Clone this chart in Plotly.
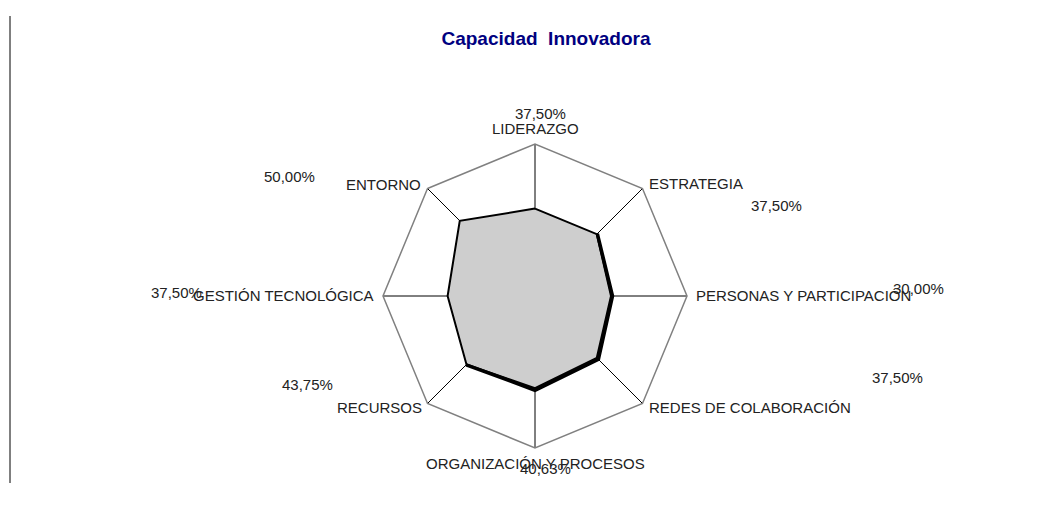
import plotly.graph_objects as go

# ---- data ----
categories = ["LIDERAZGO", "ESTRATEGIA", "PERSONAS Y PARTICIPACIÓN", "REDES DE COLABORACIÓN",
              "ORGANIZACIÓN Y PROCESOS", "RECURSOS", "GESTIÓN TECNOLÓGICA", "ENTORNO"]
values = [0.375, 0.375, 0.30, 0.375, 0.4063, 0.4375, 0.375, 0.50]
line_values = [None, 0.38, 0.31, 0.39, 0.42, 0.44, None, None]
value_labels = [f"{v*100:.2f}%".replace(".", ",") for v in values]

# pixel positions (x, y from top) of the data-label texts as placed in the original
label_pos = [(540, 113), (776, 205), (918, 288), (897, 377),
             (545, 468), (308, 384), (176, 292), (289, 176)]
# category label anchor points (x, y from top, horizontal anchor)
cat_pos = [(535, 128, "center"), (647, 183, "left"), (694, 295, "left"), (647, 407, "left"),
           (535, 463, "center"), (424, 407, "right"), (376, 295, "right"), (423, 184, "right")]

W, H = 1045, 514
CX, CY, R = 535, 296, 152
FONT = "Liberation Sans, Arial, sans-serif"

fig = go.Figure()

fig.add_trace(go.Scatterpolar(
    r=values + values[:1], theta=categories + categories[:1],
    mode="lines", fill="toself", fillcolor="rgb(206,206,206)",
    line=dict(color="black", width=2), showlegend=False, hoverinfo="skip"))

fig.add_trace(go.Scatterpolar(
    r=line_values, theta=categories,
    mode="lines", line=dict(color="black", width=3.5),
    connectgaps=False, showlegend=False, hoverinfo="skip"))

for txt, (px, py, anc) in zip(categories, cat_pos):
    fig.add_annotation(x=px / W, y=1 - py / H, xref="paper", yref="paper",
                       text=txt, showarrow=False, xanchor=anc, yanchor="middle",
                       font=dict(family=FONT, size=15, color="#222222"))

for txt, (px, py) in zip(value_labels, label_pos):
    fig.add_annotation(x=px / W, y=1 - py / H, xref="paper", yref="paper",
                       text=txt, showarrow=False, xanchor="center", yanchor="middle",
                       font=dict(family=FONT, size=15, color="#222222"))

# left vertical rule
fig.add_shape(type="line", xref="paper", yref="paper",
              x0=10 / W, x1=10 / W, y0=1 - 483 / H, y1=1 - 16 / H,
              line=dict(color="black", width=1))

fig.update_layout(
    width=W, height=H,
    margin=dict(l=0, r=0, t=0, b=0),
    paper_bgcolor="white", plot_bgcolor="white",
    title=dict(text="<b>Capacidad  Innovadora</b>", x=546 / W, y=1 - 38 / H,
               xanchor="center", yanchor="middle",
               font=dict(family=FONT, size=19, color="#000080")),
    polar=dict(
        domain=dict(x=[(CX - R) / W, (CX + R) / W], y=[(H - CY - R) / H, (H - CY + R) / H]),
        bgcolor="white",
        gridshape="linear",
        radialaxis=dict(range=[-0.2, 0.8], showgrid=False, showline=False,
                        showticklabels=False, ticks=""),
        angularaxis=dict(rotation=90, direction="clockwise",
                         showline=True, linecolor="#808080", linewidth=1.5,
                         showgrid=True, gridcolor="black", gridwidth=1,
                         ticks="", showticklabels=False),
    ),
)

fig.write_html("out.html", config={"displayModeBar": False},
               post_script="document.body.style.margin='0';document.body.style.overflow='hidden';")
